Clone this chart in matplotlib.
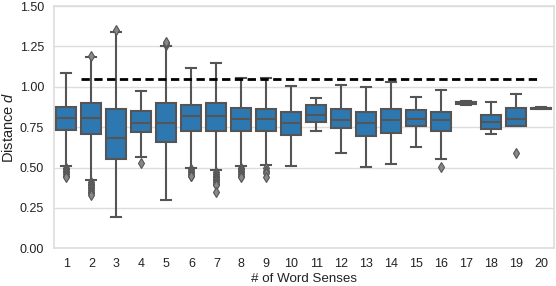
import numpy as np
import matplotlib
matplotlib.use('Agg')
import matplotlib.pyplot as plt

# Box statistics (one entry per word-sense count)
senses = [str(i) for i in range(1, 21)]
q1 = [0.733, 0.708, 0.551, 0.721, 0.659, 0.729, 0.729, 0.723, 0.727, 0.702,
      0.781, 0.743, 0.696, 0.712, 0.754, 0.727, 0.893, 0.741, 0.758, 0.862]
med = [0.809, 0.805, 0.681, 0.776, 0.778, 0.816, 0.818, 0.801, 0.799, 0.778,
       0.828, 0.795, 0.778, 0.795, 0.801, 0.795, 0.900, 0.781, 0.801, 0.866]
q3 = [0.877, 0.902, 0.865, 0.849, 0.902, 0.888, 0.898, 0.871, 0.865, 0.845,
      0.884, 0.861, 0.846, 0.861, 0.853, 0.846, 0.908, 0.822, 0.871, 0.870]
whislo = [0.510, 0.423, 0.192, 0.562, 0.301, 0.500, 0.485, 0.510, 0.516, 0.508,
          0.727, 0.592, 0.506, 0.520, 0.626, 0.555, 0.888, 0.708, 0.755, 0.860]
whishi = [1.084, 1.187, 1.338, 0.975, 1.253, 1.117, 1.146, 1.053, 1.053, 1.006,
          0.931, 1.010, 0.999, 1.032, 0.935, 0.981, 0.912, 0.905, 0.958, 0.872]
fliers = [
    [0.50, 0.49, 0.48, 0.47, 0.46, 0.45, 0.44],
    [0.41, 0.40, 0.39, 0.38, 0.37, 0.36, 0.35, 0.34, 0.33, 1.19],
    [1.35],
    [0.527],
    [1.26, 1.27, 1.28],
    [0.49, 0.48, 0.47, 0.46, 0.45, 0.445],
    [0.475, 0.46, 0.45, 0.44, 0.43, 0.42, 0.41, 0.40, 0.39, 0.347],
    [0.50, 0.49, 0.48, 0.47, 0.46, 0.45, 0.44],
    [0.50, 0.48, 0.465, 0.44],
    [], [], [], [], [], [],
    [0.504],
    [], [],
    [0.589],
    [],
]
threshold = 1.05

plt.rcParams['font.family'] = ['Liberation Sans', 'DejaVu Sans']
plt.rcParams['mathtext.fontset'] = 'custom'
plt.rcParams['mathtext.it'] = 'Liberation Sans:italic'
plt.rcParams['mathtext.rm'] = 'Liberation Sans'

box_color = '#2e78b2'
gray = '#555555'

stats = []
for i, lab in enumerate(senses):
    stats.append(dict(label=lab, q1=q1[i], med=med[i], q3=q3[i],
                      whislo=whislo[i], whishi=whishi[i], fliers=fliers[i]))

fig = plt.figure(figsize=(5.56, 2.86), dpi=100)
ax = fig.add_axes([0.097, 0.132, 0.899, 0.847])

ax.bxp(stats, positions=np.arange(len(senses)), widths=0.8, patch_artist=True,
       boxprops=dict(facecolor=box_color, edgecolor=gray, linewidth=1.5),
       medianprops=dict(color=gray, linewidth=1.5),
       whiskerprops=dict(color=gray, linewidth=1.5),
       capprops=dict(color=gray, linewidth=1.5),
       flierprops=dict(marker='d', markerfacecolor='#888888', markeredgecolor=gray,
                       markersize=5, markeredgewidth=0.8),
       zorder=3)

ax.hlines(threshold, 0.6, 18.9, colors='black', linestyles=(0, (3, 1.6)),
          linewidth=2, zorder=4)

ax.set_xlim(-0.5, len(senses) - 0.5)
ax.set_ylim(0, 1.5)
ax.set_yticks([0, 0.25, 0.5, 0.75, 1.0, 1.25, 1.5])
ax.set_yticklabels(['0.00', '0.25', '0.50', '0.75', '1.00', '1.25', '1.50'])
ax.set_xticks(np.arange(len(senses)))
ax.set_xticklabels(senses)
ax.tick_params(axis='both', length=0, labelsize=9, colors='#222222', pad=7)
ax.yaxis.grid(True, color='#dddddd', linewidth=1, zorder=0)
ax.set_axisbelow(True)
for s in ax.spines.values():
    s.set_color('#dddddd')
    s.set_linewidth(1.2)

ax.set_xlabel('# of Word Senses', fontsize=9.6, color='#222222', labelpad=2)
ax.set_ylabel('Distance $d$', fontsize=10.5, color='#222222', labelpad=3)

fig.savefig('out.png', dpi=100, facecolor='white')
